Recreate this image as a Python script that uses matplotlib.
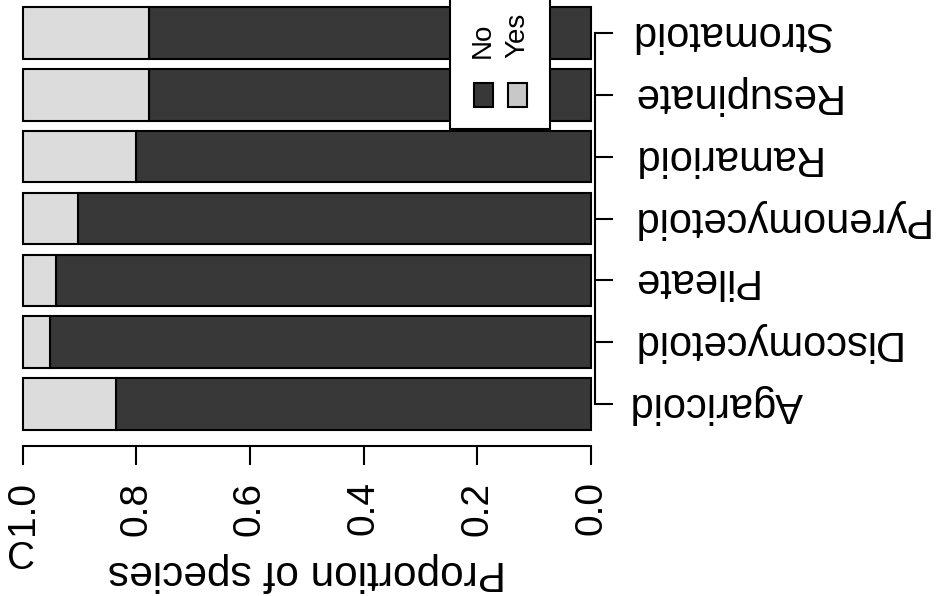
import matplotlib
matplotlib.use("Agg")
import matplotlib.pyplot as plt
from matplotlib.patches import Rectangle

plt.rcParams['font.family'] = ['Liberation Sans', 'DejaVu Sans']

# categories from bottom to top of the picture
categories = ['Agaricoid', 'Discomycetoid', 'Pileate', 'Pyrenomycetoid',
              'Ramarioid', 'Resupinate', 'Stromatoid']
yes_prop = [0.164, 0.048, 0.059, 0.098, 0.199, 0.223, 0.222]
no_prop = [1 - v for v in yes_prop]
xticks = [0.0, 0.2, 0.4, 0.6, 0.8, 1.0]
xtick_labels = ['0.0', '0.2', '0.4', '0.6', '0.8', '1.0']
legend_labels = ['No', 'Yes']

dark = '#383838'
light = '#dcdcdc'
W, H = 942, 596

fig = plt.figure(figsize=(W / 100, H / 100), dpi=100)
# axes: left edge at px 0, right edge at px 595, bottom at px 446, top at px 0
ax = fig.add_axes([0, 1 - 446 / H, 595 / W, 446 / H])

ypos = [0.7 + 1.2 * i for i in range(len(categories))]
ax.barh(ypos, no_prop, height=1, left=0, color=dark, edgecolor='black', linewidth=1.5)
ax.barh(ypos, yes_prop, height=1, left=no_prop, color=light, edgecolor='black', linewidth=1.5)

ax.set_xlim(1.0396, -0.007)
ax.set_ylim(-0.1155, 8.541)

for s in ['top', 'left']:
    ax.spines[s].set_visible(False)
ax.spines['bottom'].set_bounds(0, 1)
ax.spines['right'].set_bounds(ypos[0], ypos[-1])
ax.spines['bottom'].set_linewidth(1.5)
ax.spines['right'].set_linewidth(1.5)

ax.yaxis.set_ticks_position('right')
ax.set_yticks(ypos)
ax.set_yticklabels(categories, rotation=180, fontsize=30, va='center', ha='left')
ax.set_xticks(xticks)
ax.set_xticklabels(xtick_labels, rotation=90, fontsize=28, va='top', ha='center')
ax.tick_params(axis='x', length=13.5, width=1.5, pad=12)
ax.tick_params(axis='y', length=13, width=1.5, pad=12)

fig.text(307 / W, 1 - 572 / H, 'Proportion of species', rotation=180,
         fontsize=30.5, ha='center', va='center')
fig.text(7 / W, 1 - 541 / H, 'C', fontsize=28, ha='left', va='top')

# legend box, cut by the top edge
fig.add_artist(Rectangle((450 / W, 1 - 129 / H), 100 / W, 140 / H,
                         transform=fig.transFigure, facecolor='white',
                         edgecolor='black', linewidth=1.5, clip_on=False))
for lab, col, cx in zip(legend_labels, [dark, '#c8c8c8'], [483, 517]):
    fig.add_artist(Rectangle(((cx - 9.5) / W, 1 - 107 / H), 19 / W, 24 / H,
                             transform=fig.transFigure, facecolor=col,
                             edgecolor='black', linewidth=1.5))
    fig.text(cx / W, 1 - 58 / H, lab, rotation=90, fontsize=20,
             ha='center', va='bottom')

fig.savefig('out.png', dpi=100)
